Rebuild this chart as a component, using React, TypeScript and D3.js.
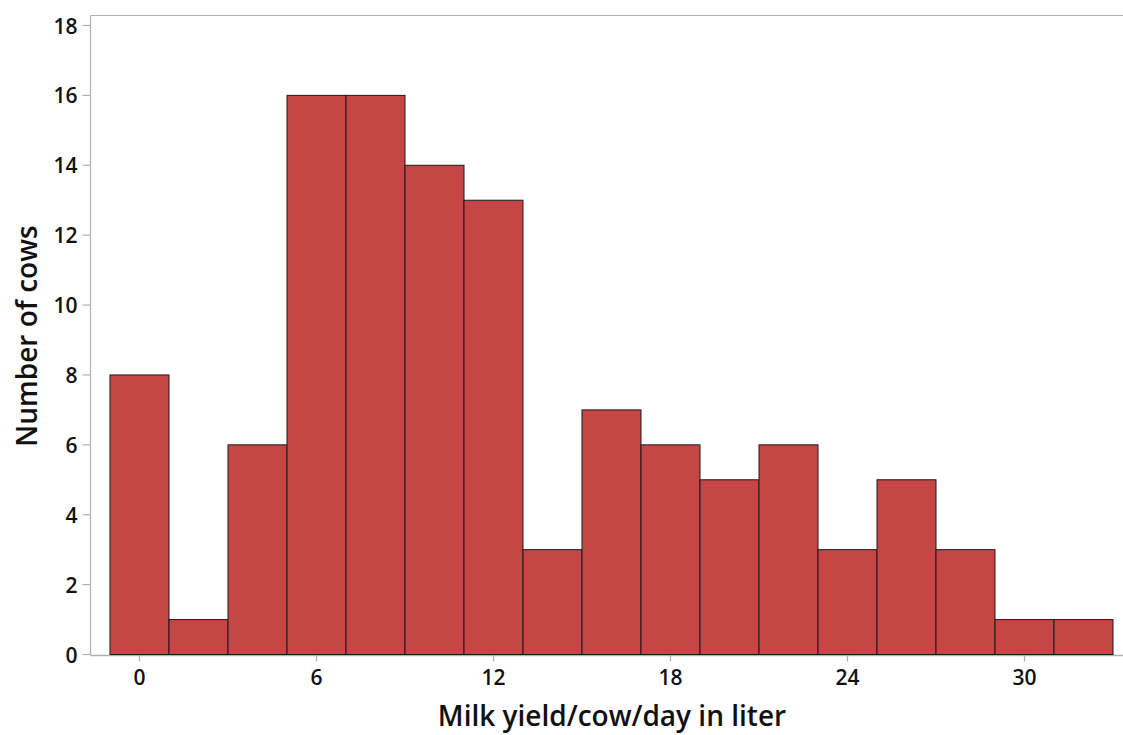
import React from "react";
import * as d3 from "d3";

const binStarts = [-1, 1, 3, 5, 7, 9, 11, 13, 15, 17, 19, 21, 23, 25, 27, 29, 31];
const binWidth = 2;
const counts = [8, 1, 6, 16, 16, 14, 13, 3, 7, 6, 5, 6, 3, 5, 3, 1, 1];
const xTicks = [0, 6, 12, 18, 24, 30];
const yTicks = [0, 2, 4, 6, 8, 10, 12, 14, 16, 18];

const W = 1123;
const H = 735;
const FONT = "'Open Sans', 'Noto Sans', sans-serif";

export default function App() {
  const x = d3.scaleLinear().domain([0, 30]).range([139.5, 1024.5]);
  const y = d3.scaleLinear().domain([0, 18]).range([654.5, 25.5]);
  const left = 90.5;
  const top = 15.5;
  const bottom = 654.5;
  const axisColor = "#b0b0b0";

  return (
    <svg width={W} height={H} style={{ position: "absolute", left: 0, top: 0, background: "#fff" }}>
      {/* frame */}
      <line x1={left} x2={W} y1={top} y2={top} stroke={axisColor} strokeWidth={1.2} />
      <line x1={left} x2={left} y1={top} y2={bottom} stroke={axisColor} strokeWidth={1.2} />
      <line x1={left} x2={W} y1={bottom + 1} y2={bottom + 1} stroke={axisColor} strokeWidth={1.5} />

      {/* bars */}
      {counts.map((c, i) => (
        <rect
          key={i}
          x={x(binStarts[i])}
          y={y(c)}
          width={x(binStarts[i] + binWidth) - x(binStarts[i])}
          height={y(0) - y(c)}
          fill="#C64646"
          stroke="#1a1a1a"
          strokeWidth={1}
        />
      ))}

      {/* y ticks */}
      {yTicks.map((t) => (
        <g key={t}>
          <line x1={left - 8} x2={left} y1={y(t)} y2={y(t)} stroke={axisColor} strokeWidth={1.2} />
          <text
            x={left - 13}
            y={y(t)}
            textAnchor="end"
            dominantBaseline="central"
            fontFamily={FONT}
            fontWeight={600}
            fontSize={21}
            fill="#111"
          >
            {t}
          </text>
        </g>
      ))}

      {/* x ticks */}
      {xTicks.map((t) => (
        <g key={t}>
          <line x1={x(t)} x2={x(t)} y1={bottom + 1} y2={bottom + 7} stroke={axisColor} strokeWidth={1.2} />
          <text
            x={x(t)}
            y={685}
            textAnchor="middle"
            fontFamily={FONT}
            fontWeight={600}
            fontSize={21}
            fill="#111"
          >
            {t}
          </text>
        </g>
      ))}

      {/* axis titles */}
      <text
        x={612}
        y={726}
        textAnchor="middle"
        fontFamily={FONT}
        fontWeight={600}
        fontSize={28}
        fill="#111"
      >
        Milk yield/cow/day in liter
      </text>
      <text
        transform={`translate(37,336) rotate(-90)`}
        textAnchor="middle"
        fontFamily={FONT}
        fontWeight={600}
        fontSize={28}
        fill="#111"
      >
        Number of cows
      </text>
    </svg>
  );
}
